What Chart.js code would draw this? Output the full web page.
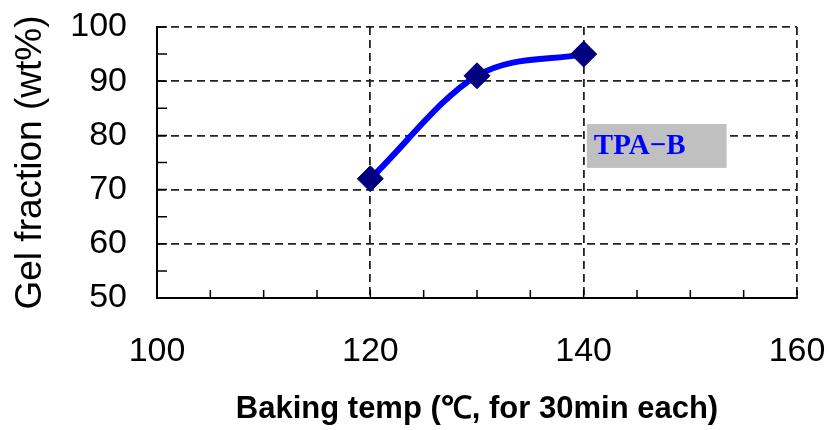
<!DOCTYPE html>
<html>
<head>
<meta charset="utf-8">
<script src="https://cdn.jsdelivr.net/npm/chart.js@4"></script>
<style>
  html, body { margin: 0; padding: 0; background: #fff; }
</style>
</head>
<body>
<canvas id="gelChart" width="832" height="430"></canvas>
<script>
// values
const bakingTemps = [120, 130, 140];
const gelFraction = [72, 91, 95];
const xRange = [100, 160];
const yRange = [50, 100];
const seriesLabel = "TPA\u2212B";
const xTitle = "Baking temp (\u2103, for 30min each)";
const yTitle = "Gel fraction (wt%)";

// small inward ticks every 5 units on both axes
const minorTicks = {
  id: "minorTicks",
  afterDatasetsDraw(chart) {
    const { ctx, chartArea, scales } = chart;
    ctx.save();
    ctx.strokeStyle = "#000";
    ctx.lineWidth = 1.5;
    ctx.beginPath();
    for (let v = xRange[0] + 5; v <= xRange[1]; v += 5) {
      const px = scales.x.getPixelForValue(v);
      ctx.moveTo(px, chartArea.bottom);
      ctx.lineTo(px, chartArea.bottom - 8);
    }
    for (let v = yRange[0] + 5; v <= yRange[1]; v += 5) {
      const py = scales.y.getPixelForValue(v);
      ctx.moveTo(chartArea.left, py);
      ctx.lineTo(chartArea.left + 10, py);
    }
    ctx.stroke();
    ctx.restore();
  }
};

// series label in a grey box, placed in data units
const seriesTag = {
  id: "seriesTag",
  afterDatasetsDraw(chart) {
    const { ctx, scales } = chart;
    const x0 = scales.x.getPixelForValue(140.3);
    const x1 = scales.x.getPixelForValue(153.4);
    const y0 = scales.y.getPixelForValue(82.1);
    const y1 = scales.y.getPixelForValue(74);
    ctx.save();
    ctx.fillStyle = "#c0c0c0";
    ctx.fillRect(x0, y0, x1 - x0, y1 - y0);
    ctx.fillStyle = "#0000ff";
    ctx.font = "bold 29px 'Liberation Serif', serif";
    ctx.textBaseline = "middle";
    ctx.fillText(seriesLabel, x0 + 7, (y0 + y1) / 2 + 1);
    ctx.restore();
  }
};

new Chart(document.getElementById("gelChart"), {
  type: "line",
  data: {
    datasets: [{
      label: seriesLabel,
      data: bakingTemps.map((t, i) => ({ x: t, y: gelFraction[i] })),
      borderColor: "#0000ff",
      borderWidth: 6,
      cubicInterpolationMode: "monotone",
      pointStyle: "rectRot",
      pointRadius: 13,
      pointBackgroundColor: "#000080",
      pointBorderColor: "#000080",
      pointBorderWidth: 1,
      fill: false
    }]
  },
  options: {
    responsive: false,
    animation: false,
    devicePixelRatio: 1,
    layout: { padding: { top: 27, right: 35, left: 0, bottom: 0 } },
    plugins: { legend: { display: false }, tooltip: { enabled: false } },
    scales: {
      x: {
        type: "linear",
        min: xRange[0],
        max: xRange[1],
        afterFit: s => { s.height = 132; },
        ticks: {
          stepSize: 20,
          color: "#000",
          padding: 0,
          font: { family: "'Liberation Sans', Arial", size: 34 }
        },
        grid: { color: "#222", lineWidth: 1.8, drawTicks: true, tickLength: 33, tickColor: "rgba(0,0,0,0)" },
        border: { display: true, color: "#000", width: 2, dash: [8, 5] },
        title: {
          display: true,
          text: xTitle,
          color: "#000",
          padding: { top: 0, bottom: 2 },
          font: { family: "'Liberation Sans', Arial", size: 31, weight: "bold" }
        }
      },
      y: {
        min: yRange[0],
        max: yRange[1],
        afterFit: s => { s.width = 157; },
        ticks: {
          stepSize: 10,
          color: "#000",
          padding: 0,
          font: { family: "'Liberation Sans', Arial", size: 34 }
        },
        grid: { color: "#222", lineWidth: 1.8, drawTicks: true, tickLength: 30, tickColor: "rgba(0,0,0,0)" },
        border: { display: true, color: "#000", width: 2, dash: [8, 5] },
        title: {
          display: true,
          text: yTitle,
          color: "#000",
          padding: { top: 9, bottom: 0 },
          font: { family: "'Liberation Sans', Arial", size: 37 }
        }
      }
    }
  },
  plugins: [minorTicks, seriesTag]
});
</script>
</body>
</html>
